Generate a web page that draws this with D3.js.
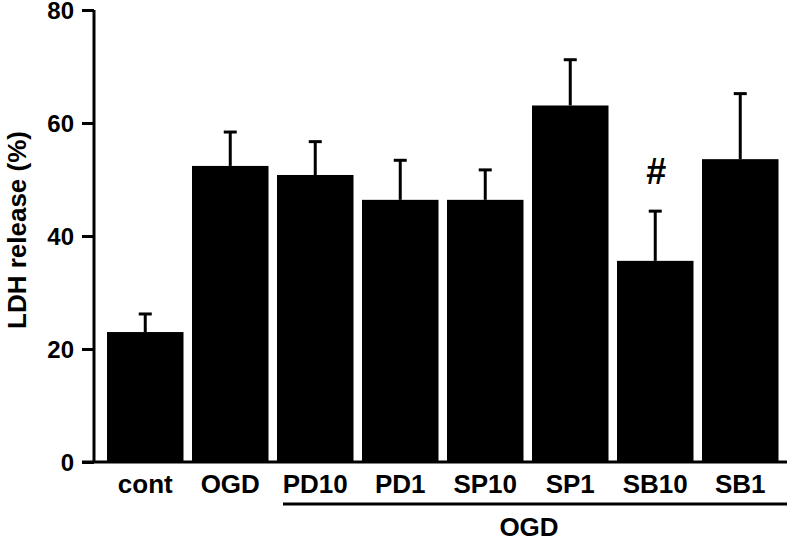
<!DOCTYPE html>
<html>
<head>
<meta charset="utf-8">
<script src="https://cdn.jsdelivr.net/npm/d3@7"></script>
<style>
  body { margin: 0; background: #fff; }
  text { font-family: "Liberation Sans", Arial, sans-serif; font-weight: bold; fill: #000; }
</style>
</head>
<body>
<div class="chart"></div>
<script>
const WIDTH = 792
const HEIGHT = 542

// data
const groups = ["cont", "OGD", "PD10", "PD1", "SP10", "SP1", "SB10", "SB1"];
const means  = [23.0, 52.4, 50.8, 46.4, 46.4, 63.1, 35.6, 53.6];
const errors = [3.2, 6.0, 5.9, 7.0, 5.3, 8.1, 8.8, 11.6];
const yTicks = [0, 20, 40, 60, 80];
const marked = ["SB10"];  // groups with "#"
const ogdGroup = ["PD10", "SB1"]; // underline under the OGD-treated groups

const svg = d3.select("div.chart")
            .append("svg")
            .attr("width", WIDTH)
            .attr("height", HEIGHT);

const x = d3.scaleBand()
            .domain(groups)
            .range([102.75, 782.75])
            .paddingInner(0.1)
            .paddingOuter(0.05);

const y = d3.scaleLinear()
            .domain([0, 80])
            .range([462, 10]);

// bars
svg.selectAll("rect.bar")
   .data(groups)
   .enter()
   .append("rect")
   .attr("class", "bar")
   .attr("x", d => x(d))
   .attr("y", (d, i) => y(means[i]))
   .attr("width", x.bandwidth())
   .attr("height", (d, i) => y(0) - y(means[i]))
   .style("fill", "#000");

// error bars (upper only)
const err = svg.selectAll("g.err")
   .data(groups)
   .enter()
   .append("g")
   .attr("class", "err");

err.append("line")
   .attr("x1", d => x(d) + x.bandwidth() / 2)
   .attr("x2", d => x(d) + x.bandwidth() / 2)
   .attr("y1", (d, i) => y(means[i]))
   .attr("y2", (d, i) => y(means[i] + errors[i]))
   .attr("stroke", "#000")
   .attr("stroke-width", 3);

err.append("line")
   .attr("x1", d => x(d) + x.bandwidth() / 2 - 6.5)
   .attr("x2", d => x(d) + x.bandwidth() / 2 + 6.5)
   .attr("y1", (d, i) => y(means[i] + errors[i]))
   .attr("y2", (d, i) => y(means[i] + errors[i]))
   .attr("stroke", "#000")
   .attr("stroke-width", 3);

// "#" marks
svg.selectAll("text.mark")
   .data(marked)
   .enter()
   .append("text")
   .attr("class", "mark")
   .attr("x", d => x(d) + x.bandwidth() / 2 + 1)
   .attr("y", 184)
   .attr("text-anchor", "middle")
   .style("font-size", "36px")
   .text("#");

// y axis
const yAxis = svg.append("g")
   .attr("transform", "translate(94,0)")
   .call(d3.axisLeft(y).tickValues(yTicks).tickSize(12).tickPadding(8));
yAxis.select(".domain").attr("d", `M0,${y(80)}V${y(0)}`).attr("stroke-width", 3);
yAxis.selectAll(".tick line").attr("stroke-width", 3);
yAxis.selectAll(".tick text").style("font-size", "24px").attr("dy", "0.36em");

// x baseline
svg.append("line")
   .attr("x1", 82)
   .attr("x2", 787)
   .attr("y1", y(0))
   .attr("y2", y(0))
   .attr("stroke", "#000")
   .attr("stroke-width", 3);

// category labels
svg.selectAll("text.cat")
   .data(groups)
   .enter()
   .append("text")
   .attr("class", "cat")
   .attr("x", d => x(d) + x.bandwidth() / 2)
   .attr("y", 493)
   .attr("text-anchor", "middle")
   .style("font-size", "26px")
   .text(d => d);

// OGD bracket
svg.append("line")
   .attr("x1", x(ogdGroup[0]) + 6)
   .attr("x2", 787)
   .attr("y1", 504)
   .attr("y2", 504)
   .attr("stroke", "#000")
   .attr("stroke-width", 3);

svg.append("text")
   .attr("x", 529)
   .attr("y", 536)
   .attr("text-anchor", "middle")
   .style("font-size", "26px")
   .text("OGD");

// y title
svg.append("text")
   .attr("transform", "translate(26,230) rotate(-90)")
   .attr("text-anchor", "middle")
   .style("font-size", "26px")
   .text("LDH release (%)");
</script>
</body>
</html>
